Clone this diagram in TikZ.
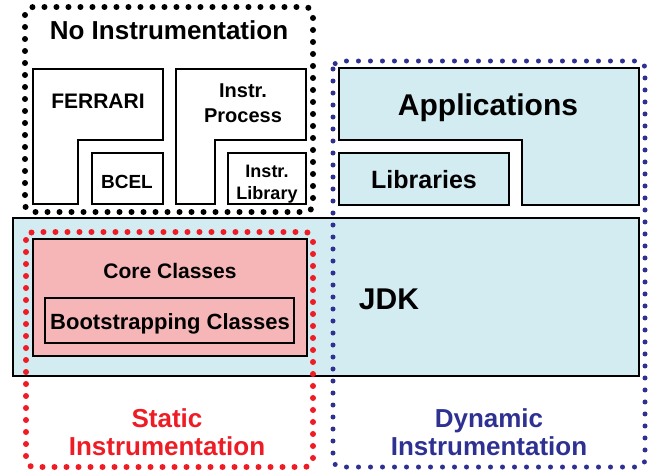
\documentclass[tikz,border=0pt]{standalone}
\usepackage{fontspec}
\setmainfont{Liberation Sans}
\definecolor{jdkblue}{HTML}{D3ECF2}
\definecolor{corepink}{HTML}{F6B5B6}
\definecolor{staticred}{HTML}{EE1C25}
\definecolor{dynblue}{HTML}{2E3192}
\tikzset{
  block/.style={draw=black, line width=1.8pt, fill=#1},
  block/.default=white,
  zone/.style={draw=#1, line width=6pt, line cap=round,
    dash pattern=on 0pt off 12pt, rounded corners=8pt},
  lbl/.style 2 args={font=\bfseries\fontsize{#1}{#2}\selectfont,
    inner sep=0pt, anchor=base, align=center},
}

\begin{document}
\begin{tikzpicture}[x=1pt,y=-1pt]
\useasboundingbox (0,0) rectangle (656,475);

% Draw the tool boxes (not instrumented)
\draw[block] (33,69) -- (163,69) -- (163,140) -- (78,140) -- (78,204) -- (33,204) -- cycle;
\draw[block] (92,153) rectangle (163,204);
\draw[block] (176,69) -- (306,69) -- (306,140) -- (215,140) -- (215,204) -- (176,204) -- cycle;
\draw[block] (228,153) rectangle (306,204);

% Draw the application side
\draw[block=jdkblue] (339,68) -- (639,68) -- (639,205) -- (522,205) -- (522,140) -- (339,140) -- cycle;
\draw[block=jdkblue] (339,153) rectangle (509,205);

% Draw the JDK with its core classes
\draw[block=jdkblue] (13,218) rectangle (639,376);
\draw[block=corepink] (33,239) rectangle (307,356);
\draw[block=corepink] (45,298) rectangle (294,343);

% Draw the dotted zones on top
\draw[zone=black] (25,7) rectangle (313,212);
\draw[zone=staticred] (26,232) rectangle (313,467);
\draw[zone=dynblue, line width=5pt] (333,61) rectangle (645,467);

% Labels (two-line labels sit on their last baseline)
\node[lbl={26}{30}] (noinstr) at (169,39) {No Instrumentation};
\node[lbl={21}{25}] (ferrari) at (98,108) {FERRARI};
\node[lbl={19}{25}] (bcel) at (127,188) {BCEL};
\node[lbl={20}{25}] (process) at (243,122) {Instr.\\Process};
\node[lbl={18}{22}] (library) at (267,199) {Instr.\\Library};
\node[lbl={30}{34}] (apps) at (488,115) {Applications};
\node[lbl={25}{29}] (libs) at (424,188) {Libraries};
\node[lbl={30}{34}] (jdk) at (389,309) {JDK};
\node[lbl={21}{25}] (core) at (170,278) {Core Classes};
\node[lbl={22}{25}] (boot) at (170,329) {Bootstrapping Classes};
\node[lbl={26}{28}, text=staticred] (static) at (167,455) {Static\\Instrumentation};
\node[lbl={26}{28}, text=dynblue] (dynamic) at (489,455) {Dynamic\\Instrumentation};

\end{tikzpicture}
\end{document}
